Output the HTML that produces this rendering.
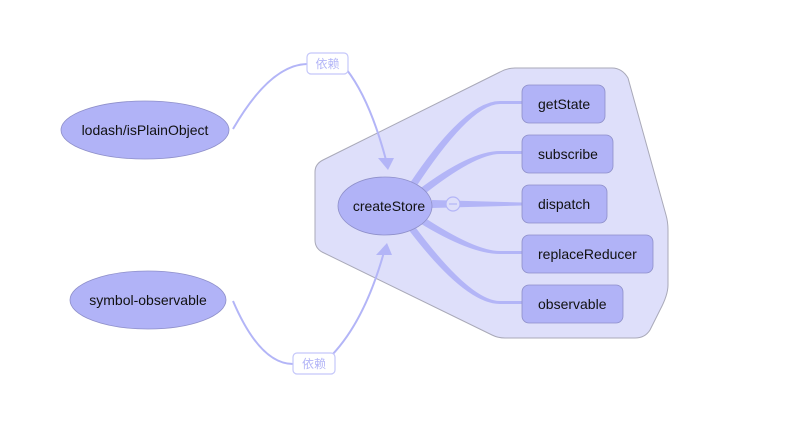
<!DOCTYPE html>
<html><head><meta charset="utf-8"><style>
html,body{margin:0;padding:0;background:#fff;width:800px;height:438px;overflow:hidden}
text{font-family:"Liberation Sans","Noto Sans CJK SC",sans-serif}
</style></head><body>
<svg width="800" height="438" viewBox="0 0 800 438" xmlns="http://www.w3.org/2000/svg">
<path d="M515,68 L612,68 Q622,68 628,78 L666,215 Q668,222 668,230 L668,285 Q668,295 660,310 L650,330 Q645,338 635,338 L505,338 Q498,338 492,335 L322,252 Q315,248 315,240 L315,172 Q315,164 323,160 L500,72 Q507,68 515,68 Z" fill="#dedffa" stroke="#a9a9b8" stroke-width="1"/>
<g fill="#b3b5f7">
<path d="M410,183 L414,190 Q470,104 500,104 L522,104 L522,101 L500,101 Q465,101 410,183 Z"/>
<path d="M418,190 L422,196 Q475,154 500,154 L522,154 L522,151 L500,151 Q470,151 418,190 Z"/>
<path d="M432,200 L432,208 L522,205.5 L522,202.5 Z"/>
<path d="M418,222 L422,216 Q475,251 500,251 L522,251 L522,254 L500,254 Q470,254 418,222 Z"/>
<path d="M408,229 L413,224 Q470,301 500,301 L522,301 L522,304 L500,304 Q465,304 408,229 Z"/>
</g>
<circle cx="453" cy="204" r="7" fill="#dedffa" stroke="#b3b5f7" stroke-width="1.2"/>
<line x1="449" y1="204" x2="457" y2="204" stroke="#b3b5f7" stroke-width="1.2"/>
<g fill="none" stroke="#b3b5f7" stroke-width="2">
<path d="M233,129 Q270,65 307,64"/>
<path d="M347,70 Q370,100 386,160"/>
<path d="M233,301 Q260,364 293,364"/>
<path d="M332,355 Q365,320 384,252"/>
</g>
<polygon points="378,158 394,158 388,170" fill="#b3b5f7"/>
<polygon points="376,255 392,255 387,243" fill="#b3b5f7"/>
<rect x="307" y="53" width="41" height="21" rx="4" fill="#fff" stroke="#c5c7fa" stroke-width="1.2"/>
<text x="327.5" y="68" font-size="12" fill="#b3b5f7" text-anchor="middle">依赖</text>
<rect x="293" y="353" width="42" height="21" rx="4" fill="#fff" stroke="#c5c7fa" stroke-width="1.2"/>
<text x="314" y="368" font-size="12" fill="#b3b5f7" text-anchor="middle">依赖</text>
<g fill="#b1b3f7" stroke="#8e8fc9" stroke-width="0.8">
<ellipse cx="145" cy="130" rx="84" ry="29"/>
<ellipse cx="148" cy="300" rx="78" ry="29"/>
<ellipse cx="385" cy="206" rx="47" ry="29"/>
<rect x="522" y="85" width="83" height="38" rx="7"/>
<rect x="522" y="135" width="91" height="38" rx="7"/>
<rect x="522" y="185" width="85" height="38" rx="7"/>
<rect x="522" y="235" width="131" height="38" rx="7"/>
<rect x="522" y="285" width="101" height="38" rx="7"/>
</g>
<g font-size="14" fill="#111">
<text x="145" y="135" text-anchor="middle">lodash/isPlainObject</text>
<text x="148" y="305" text-anchor="middle">symbol-observable</text>
<text x="389" y="211" text-anchor="middle">createStore</text>
<text x="538" y="109">getState</text>
<text x="538" y="159">subscribe</text>
<text x="538" y="209">dispatch</text>
<text x="538" y="259">replaceReducer</text>
<text x="538" y="309">observable</text>
</g>
</svg>
</body></html>
